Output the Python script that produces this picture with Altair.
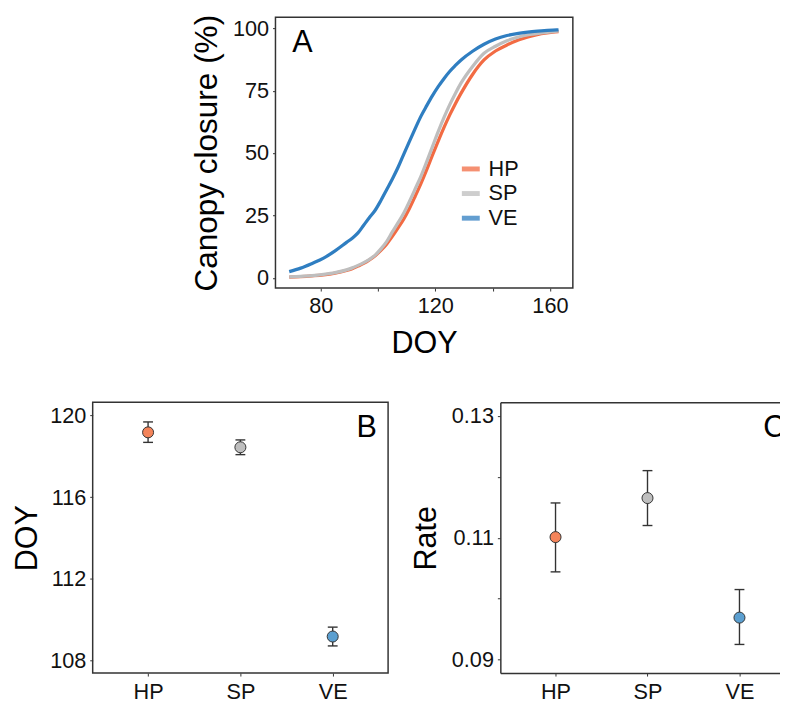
import altair as alt
import pandas as pd

FONT = "Liberation Sans"

# ---------------- data ----------------
groups = ["HP", "SP", "VE"]
group_pos = [1, 2, 3]
line_colors = ["#F26B43", "#BEBEBE", "#2F7EC1"]
point_colors = ["#F4845A", "#BEBEBE", "#5B9FD0"]
panel_labels = ["A", "B", "C"]

doy = [69, 73, 77, 81, 85, 89, 91, 93, 95, 97, 99, 101, 103, 105, 107, 109, 111,
       113, 115, 117, 119, 121, 123, 125, 127, 129, 133, 137, 141, 145, 149, 153,
       157, 161, 163]
hp_closure = [0.3, 0.5, 0.8, 1.2, 1.9, 3.0, 3.7, 4.7, 5.8, 7.2, 8.9, 11.0, 13.5,
              16.6, 20.0, 23.6, 27.9, 32.8, 37.9, 43.4, 49.2, 54.8, 60.2, 65.2,
              69.8, 74.0, 81.5, 87.3, 90.9, 93.3, 95.3, 96.7, 97.8, 98.5, 98.7]
sp_closure = [0.4, 0.6, 0.9, 1.4, 2.1, 3.2, 4.0, 5.0, 6.1, 7.4, 9.1, 11.6, 14.5,
              18.4, 22.1, 26.0, 30.7, 35.7, 40.8, 46.6, 52.6, 58.6, 64.2, 69.3,
              73.9, 78.1, 84.7, 90.0, 92.8, 95.0, 96.5, 97.5, 98.2, 98.7, 98.9]
ve_closure = [2.5, 3.9, 5.8, 7.9, 10.8, 14.2, 15.9, 18.0, 21.1, 24.2, 27.1, 31.0,
              35.3, 39.6, 44.3, 49.6, 54.8, 59.9, 64.8, 69.0, 73.0, 76.6, 79.8,
              82.7, 85.1, 87.3, 90.8, 93.6, 95.7, 97.1, 98.0, 98.6, 99.0, 99.3, 99.4]

b_mean = [119.17, 118.44, 109.18]
b_lo = [118.68, 118.08, 108.72]
b_hi = [119.68, 118.80, 109.64]

c_mean = [0.1101, 0.1165, 0.0969]
c_lo = [0.1044, 0.1120, 0.0925]
c_hi = [0.1157, 0.1210, 0.1015]

# ---------------- tables ----------------
rows = []
for g, vals in zip(groups, [hp_closure, sp_closure, ve_closure]):
    for d, v in zip(doy, vals):
        rows.append({"DOY": d, "closure": v, "group": g})
curves = pd.DataFrame(rows)

dfB = pd.DataFrame({"group": groups, "pos": group_pos, "mean": b_mean,
                    "lo": b_lo, "hi": b_hi})
dfC = pd.DataFrame({"group": groups, "pos": group_pos, "mean": c_mean,
                    "lo": c_lo, "hi": c_hi})

AX = "#333333"
CAT_LABELS = "['', 'HP', 'SP', 'VE'][datum.value]"

def letter(ch, x, align, clip=False):
    return alt.Chart(pd.DataFrame({"t": [ch]})).mark_text(
        font=FONT, fontSize=31, align=align, baseline="alphabetic", color="#000",
        clip=clip
    ).encode(text="t:N", x=alt.value(x), y=alt.value(35))

# ---------------- panel A ----------------
xA = alt.X("DOY:Q",
           scale=alt.Scale(domain=[64.2, 168.0], nice=False, zero=False),
           axis=alt.Axis(values=[80, 100, 120, 140, 160],
                         labelExpr="datum.value % 40 == 0 ? datum.label : ''",
                         title="DOY", labelPadding=5, titlePadding=12,
                         labelFlush=False))
yA = alt.Y("closure:Q",
           scale=alt.Scale(domain=[-4.1, 104.4], nice=False, zero=False),
           axis=alt.Axis(values=[0, 25, 50, 75, 100], title="Canopy closure (%)",
                         titleFontSize=32, labelPadding=4, titlePadding=9))

lines = alt.Chart(curves).mark_line(strokeWidth=3.3, interpolate="monotone").encode(
    x=xA, y=yA,
    color=alt.Color("group:N",
                    scale=alt.Scale(domain=groups, range=line_colors),
                    legend=alt.Legend(orient="none", legendX=372, legendY=142,
                                      title=None, symbolType="stroke",
                                      symbolStrokeWidth=5, symbolSize=330,
                                      symbolOpacity=0.75,
                                      labelFont=FONT, labelFontSize=22,
                                      labelColor="#111", rowPadding=2,
                                      labelOffset=6, padding=0)),
)

# invisible anchor that widens panel A's bounds so that centring puts it in place
anchor = alt.Chart(pd.DataFrame({"t": ["."]})).mark_text(
    opacity=0, align="right", fontSize=10
).encode(text="t:N", x=alt.value(326), y=alt.value(100))

chartA = alt.layer(lines, letter(panel_labels[0], 17, "left"), anchor).properties(
    width=302, height=275)

# ---------------- panels B / C ----------------
def dot_panel(df, domain, axis, label, width, xdomain, lab_x, lab_align, open_right):
    xs = alt.Scale(domain=xdomain, nice=False, zero=False)
    xx = alt.X("pos:Q", scale=xs,
               axis=alt.Axis(title=None, labelPadding=6, labelAngle=0,
                             values=group_pos, labelExpr=CAT_LABELS,
                             labelFlush=False,
                             domain=open_right, domainColor=AX, domainWidth=1.5))
    sc = alt.Scale(domain=domain, nice=False, zero=False)
    base = alt.Chart(df)
    rule = base.mark_rule(color=AX, strokeWidth=1.4).encode(
        x=xx, y=alt.Y("lo:Q", scale=sc, axis=axis), y2="hi:Q")
    cap_lo = base.mark_tick(color=AX, size=10, thickness=1.4, opacity=1,
                            orient="horizontal").encode(
        x=xx, y=alt.Y("lo:Q", scale=sc, axis=axis))
    cap_hi = base.mark_tick(color=AX, size=10, thickness=1.4, opacity=1,
                            orient="horizontal").encode(
        x=xx, y=alt.Y("hi:Q", scale=sc, axis=axis))
    pts = base.mark_circle(size=125, stroke=AX, strokeWidth=1, opacity=1).encode(
        x=xx, y=alt.Y("mean:Q", scale=sc, axis=axis),
        fill=alt.Fill("group:N", scale=alt.Scale(domain=groups, range=point_colors),
                      legend=None))
    inner = alt.layer(rule, cap_lo, cap_hi, pts,
                      letter(label, lab_x, lab_align, clip=open_right))
    if open_right:
        top = base.mark_point(opacity=0).encode(
            x=alt.X("pos:Q", scale=xs,
                    axis=alt.Axis(orient="top", title=None, labels=False,
                                  ticks=False, domain=True, domainColor=AX,
                                  domainWidth=1.5)),
            y=alt.Y("mean:Q", scale=sc, axis=axis))
        ch = alt.layer(inner, top).resolve_axis(x="independent").properties(
            width=width, height=275, view=alt.ViewBackground(strokeOpacity=0))
    else:
        ch = inner.properties(width=width, height=275)
    return ch

axisB = alt.Axis(values=[108, 112, 116, 120], title="DOY", labelPadding=4,
                 titlePadding=6)
axisC = alt.Axis(values=[0.09, 0.10, 0.11, 0.12, 0.13], title="Rate",
                 labelExpr="abs(round(datum.value*100) % 2) == 1 ? format(datum.value, '.2f') : ''",
                 labelPadding=4, titlePadding=9,
                 domain=True, domainColor=AX, domainWidth=1.5)

# discrete positions 1..3 with 0.6 expansion on each side (the right end of C is cut)
C_WIDTH = 284
chartB = dot_panel(dfB, [107.39, 120.64], axisB, panel_labels[1], 300,
                   [0.4, 3.6], 288.5, "right", False)
chartC = dot_panel(dfC, [0.0878, 0.1322], axisC, panel_labels[2], C_WIDTH,
                   [0.4, 0.4 + C_WIDTH / 93.4], 267, "left", True)

bottom = alt.hconcat(chartB, chartC, spacing=114, bounds="flush")

chart = alt.vconcat(chartA, bottom, spacing=43, center=True).properties(
    padding={"left": 3, "top": 0, "right": 0, "bottom": 0},
).configure_view(
    stroke=AX, strokeWidth=1.5
).configure_axis(
    labelFont=FONT, titleFont=FONT, labelFontSize=22, titleFontSize=31,
    labelColor="#111", titleColor="#000", tickColor=AX, tickSize=3,
    tickWidth=1, domain=False, grid=False, titleFontWeight="normal",
)

chart.save("out.html", embed_options={"renderer": "svg", "actions": False})
